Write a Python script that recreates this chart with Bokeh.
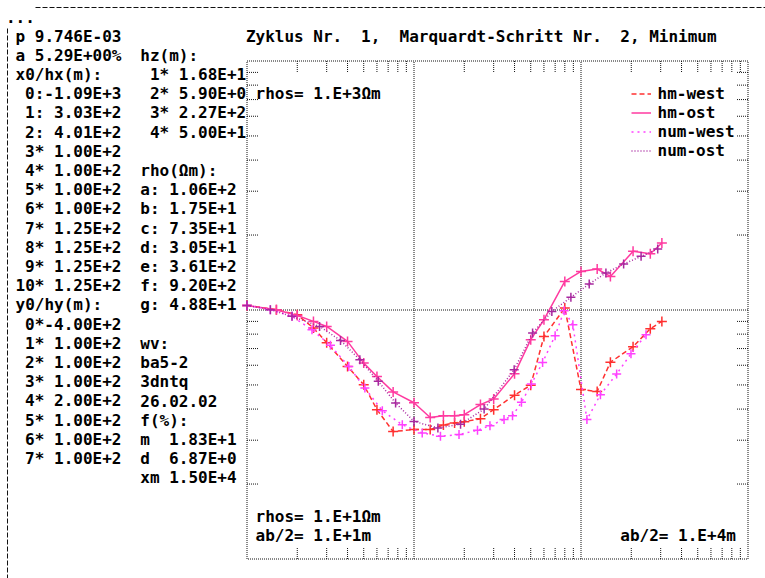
import math
import re
from bokeh.plotting import figure
from bokeh.models import Label, Legend, LegendItem, Arrow, Range1d
from bokeh.embed import file_html
from bokeh.resources import INLINE

# ---------------- data ----------------
hm_x = [10, 15, 20, 25, 30, 40, 50, 60, 75, 100, 125, 150, 175, 200, 250, 300,
        400, 500, 600, 800, 1000, 1250, 1500, 2050, 2600, 3050]
hm_west = [104.3, 100.3, 95.7, 84.7, 73.9, 59.3, 50.1, 39.8, 32.5, 33.1, 33.1, 34.5,
           35.2, 35.6, 36.6, 39.8, 45.5, 49.9, 78.3, 101.9, 47.9, 47.1, 61.7, 71.2,
           84.1, 90.0]
hm_ost = [104.3, 100.3, 95.1, 90.0, 85.9, 74.8, 61.2, 54.1, 46.9, 42.4, 37.0, 37.6,
          37.6, 38.0, 41.7, 43.9, 55.5, 76.0, 91.4, 130.3, 142.9, 146.1, 136.4, 172.0,
          168.3, 185.8]

num_west_x = [10, 13.8, 18.6, 24.5, 31.6, 40.7, 50.8, 64.6, 85.1, 112, 144, 186, 240,
              285, 346, 389, 440, 504, 589, 700, 793, 894, 1085, 1307, 1635, 1992, 2451]
num_west = [104.3, 100.3, 94.3, 83.3, 72.1, 59.3, 48.6, 39.4, 34.6, 32.1, 31.1, 31.6,
            32.9, 34.3, 36.3, 37.6, 42.6, 50.4, 61.6, 78.9, 99.4, 87.3, 36.3, 45.7,
            55.3, 66.8, 79.6]

num_ost_x = [10, 13.8, 18.6, 27.2, 36.3, 47.4, 61.1, 77.6, 100, 139, 190, 263, 398,
             513, 669, 870, 1120, 1410, 1800, 2290, 2880]
num_ost = [104.3, 100.3, 94.3, 85.9, 75.5, 63.1, 51.7, 42.3, 35.7, 33.6, 34.8, 40.0,
           57.6, 80.8, 98.7, 112.4, 127.2, 140.8, 153.0, 164.2, 175.8]

series_names = ["hm-west", "hm-ost", "num-west", "num-ost"]

# axis decades (ab/2 in m, rhos in Ohm m) and minor tick mantissas
x_decades = [10, 100, 1000, 10000]
y_decades = [10, 100, 1000]
mantissas = [2, 3, 4, 5, 6, 7, 8, 9]

col_a_lines = ["p 9.746E-03", "a 5.29E+00%", "x0/hx(m):",
               " 0:-1.09E+3", " 1: 3.03E+2", " 2: 4.01E+2",
               " 3* 1.00E+2", " 4* 1.00E+2", " 5* 1.00E+2", " 6* 1.00E+2",
               " 7* 1.25E+2", " 8* 1.25E+2", " 9* 1.25E+2", "10* 1.25E+2",
               "y0/hy(m):", " 0*-4.00E+2", " 1* 1.00E+2", " 2* 1.00E+2",
               " 3* 1.00E+2", " 4* 2.00E+2", " 5* 1.00E+2", " 6* 1.00E+2",
               " 7* 1.00E+2"]
col_b_lines = ["", "hz(m):", " 1* 1.68E+1", " 2* 5.90E+0", " 3* 2.27E+2",
               " 4* 5.00E+1", "", "rho(\u03a9m):", "a: 1.06E+2", "b: 1.75E+1",
               "c: 7.35E+1", "d: 3.05E+1", "e: 3.61E+2", "f: 9.20E+2",
               "g: 4.88E+1", "", "wv:", "ba5-2", "3dntq", "26.02.02", "f(%):",
               "m  1.83E+1", "d  6.87E+0", "xm 1.50E+4"]
title_text = "Zyklus Nr.  1,  Marquardt-Schritt Nr.  2, Minimum"
rhos_top = "rhos= 1.E+3\u03a9m"
rhos_bottom = "rhos= 1.E+1\u03a9m"
ab_left = "ab/2= 1.E+1m"
ab_right = "ab/2= 1.E+4m"

# ---------------- layout / style ----------------
W, H = 765, 578
BL, BT = 246.5, 60.5          # plot box left / top on the canvas
DX, DY = 167.0, 249.0         # pixels per decade
FONT = "DejaVu Sans Mono"
FS = "16px"
CW = 9.6
ROW0 = 35.5
RH = 19.2
COLA = 15
COLB = COLA + 13 * CW
INK = "#111111"

C_HMW = "#ff3030"
C_HMO = "#ff3aa0"
C_NMW = "#ff40ff"
C_NMO = "#a8289f"

lx0, lx1 = math.log10(x_decades[0]), math.log10(x_decades[-1])
ly0, ly1 = math.log10(y_decades[0]), math.log10(y_decades[-1])
BB = BT + DY * (ly1 - ly0)
x_range = Range1d(10 ** (lx0 - BL / DX), 10 ** (lx0 + (W - BL) / DX))
y_range = Range1d(10 ** (ly0 - (H - BB) / DY), 10 ** (ly1 + BT / DY))

p = figure(width=W, height=H, x_axis_type="log", y_axis_type="log",
           x_range=x_range, y_range=y_range, output_backend="svg",
           toolbar_location=None, title=None, min_border=0,
           x_axis_location=None, y_axis_location=None,
           background_fill_color="white", border_fill_color="white")
p.grid.visible = False
p.outline_line_color = None

xmin, xmax = x_decades[0], x_decades[-1]
ymin, ymax = y_decades[0], y_decades[-1]

# box outline
p.quad(left=[xmin], right=[xmax], bottom=[ymin], top=[ymax], fill_color=None,
       line_color=INK, line_dash="1 1", line_width=1)
# inner decade grid lines
inner_x = x_decades[1:-1]
inner_y = y_decades[1:-1]
p.segment(x0=inner_x, y0=[ymin] * len(inner_x), x1=inner_x, y1=[ymax] * len(inner_x),
          line_color=INK, line_dash="1 1", line_width=1)
p.segment(x0=[xmin] * len(inner_y), y0=inner_y, x1=[xmax] * len(inner_y), y1=inner_y,
          line_color=INK, line_dash="1 1", line_width=1)
# minor ticks (2..9 per decade) pointing inwards on all four sides
mx = [m * d for d in x_decades[:-1] for m in mantissas]
my = [m * d for d in y_decades[:-1] for m in mantissas]
tick_kw = dict(length=11, length_units="screen", line_color=INK, line_dash="1 1",
               line_width=1)
p.ray(x=mx, y=[ymin] * len(mx), angle=math.pi / 2, **tick_kw)
p.ray(x=mx, y=[ymax] * len(mx), angle=-math.pi / 2, **tick_kw)
p.ray(x=[xmin] * len(my), y=my, angle=0, **tick_kw)
p.ray(x=[xmax] * len(my), y=my, angle=math.pi, **tick_kw)

# ---------------- series ----------------
l_hmw = p.line(hm_x, hm_west, line_color=C_HMW, line_dash="5 3", line_width=1.5)
p.scatter(hm_x, hm_west, marker="cross", size=10, line_color=C_HMW, line_width=1.5)
l_hmo = p.line(hm_x, hm_ost, line_color=C_HMO, line_width=1.5)
p.scatter(hm_x, hm_ost, marker="cross", size=10, line_color=C_HMO, line_width=1.5)
l_nmw = p.line(num_west_x, num_west, line_color=C_NMW, line_dash="2 4", line_width=1.5)
p.scatter(num_west_x, num_west, marker="cross", size=9, line_color=C_NMW, line_width=1.5)
l_nmo = p.line(num_ost_x, num_ost, line_color=C_NMO, line_dash="1 2", line_width=1.5)
p.scatter(num_ost_x, num_ost, marker="cross", size=9, line_color=C_NMO, line_width=1.5)

legend = Legend(items=[LegendItem(label=n, renderers=[r]) for n, r in
                       zip(series_names, [l_hmw, l_hmo, l_nmw, l_nmo])],
                location=(630.5, H - (84 + 4 * 19)),
                orientation="vertical", glyph_width=20, glyph_height=19,
                label_height=19, spacing=0, padding=0, margin=0,
                label_standoff=7, border_line_color=None,
                background_fill_alpha=0,
                label_text_font=FONT, label_text_font_size=FS,
                label_text_font_style="bold", label_text_color="black")
p.add_layout(legend)


# ---------------- texts (fixed character grid, runs of spaces kept) ----------------
def add_text(txt, cx, cy):
    for m in re.finditer(r"\S+(?: \S+)*", txt):
        p.add_layout(Label(x=cx + m.start() * CW, y=H - cy,
                           x_units="screen", y_units="screen",
                           text=m.group(), text_font=FONT, text_font_size=FS,
                           text_font_style="bold", text_color="black",
                           text_align="left", text_baseline="middle"))


add_text("...", COLA - CW, ROW0 - RH)
for i, t in enumerate(col_a_lines):
    add_text(t, COLA, ROW0 + i * RH)
for i, t in enumerate(col_b_lines):
    add_text(t, COLB, ROW0 + i * RH)
add_text(title_text, COLA + 24 * CW, ROW0)
add_text(rhos_top, COLA + 25 * CW, ROW0 + 3 * RH)
add_text(rhos_bottom, COLA + 25 * CW, ROW0 + 25 * RH)
add_text(ab_left, COLA + 25 * CW, ROW0 + 26 * RH)
add_text(ab_right, COLA + 63 * CW, ROW0 + 26 * RH)

# outer dashed frame lines
p.add_layout(Arrow(end=None, x_start=35, y_start=H - 7, x_end=W, y_end=H - 7,
                   start_units="screen", end_units="screen",
                   line_color=INK, line_dash="5 2", line_width=1))
p.add_layout(Arrow(end=None, x_start=7, y_start=H - 28, x_end=7, y_end=0,
                   start_units="screen", end_units="screen",
                   line_color=INK, line_dash="5 2", line_width=1))

open("out.html", "w").write(file_html(p, INLINE))
